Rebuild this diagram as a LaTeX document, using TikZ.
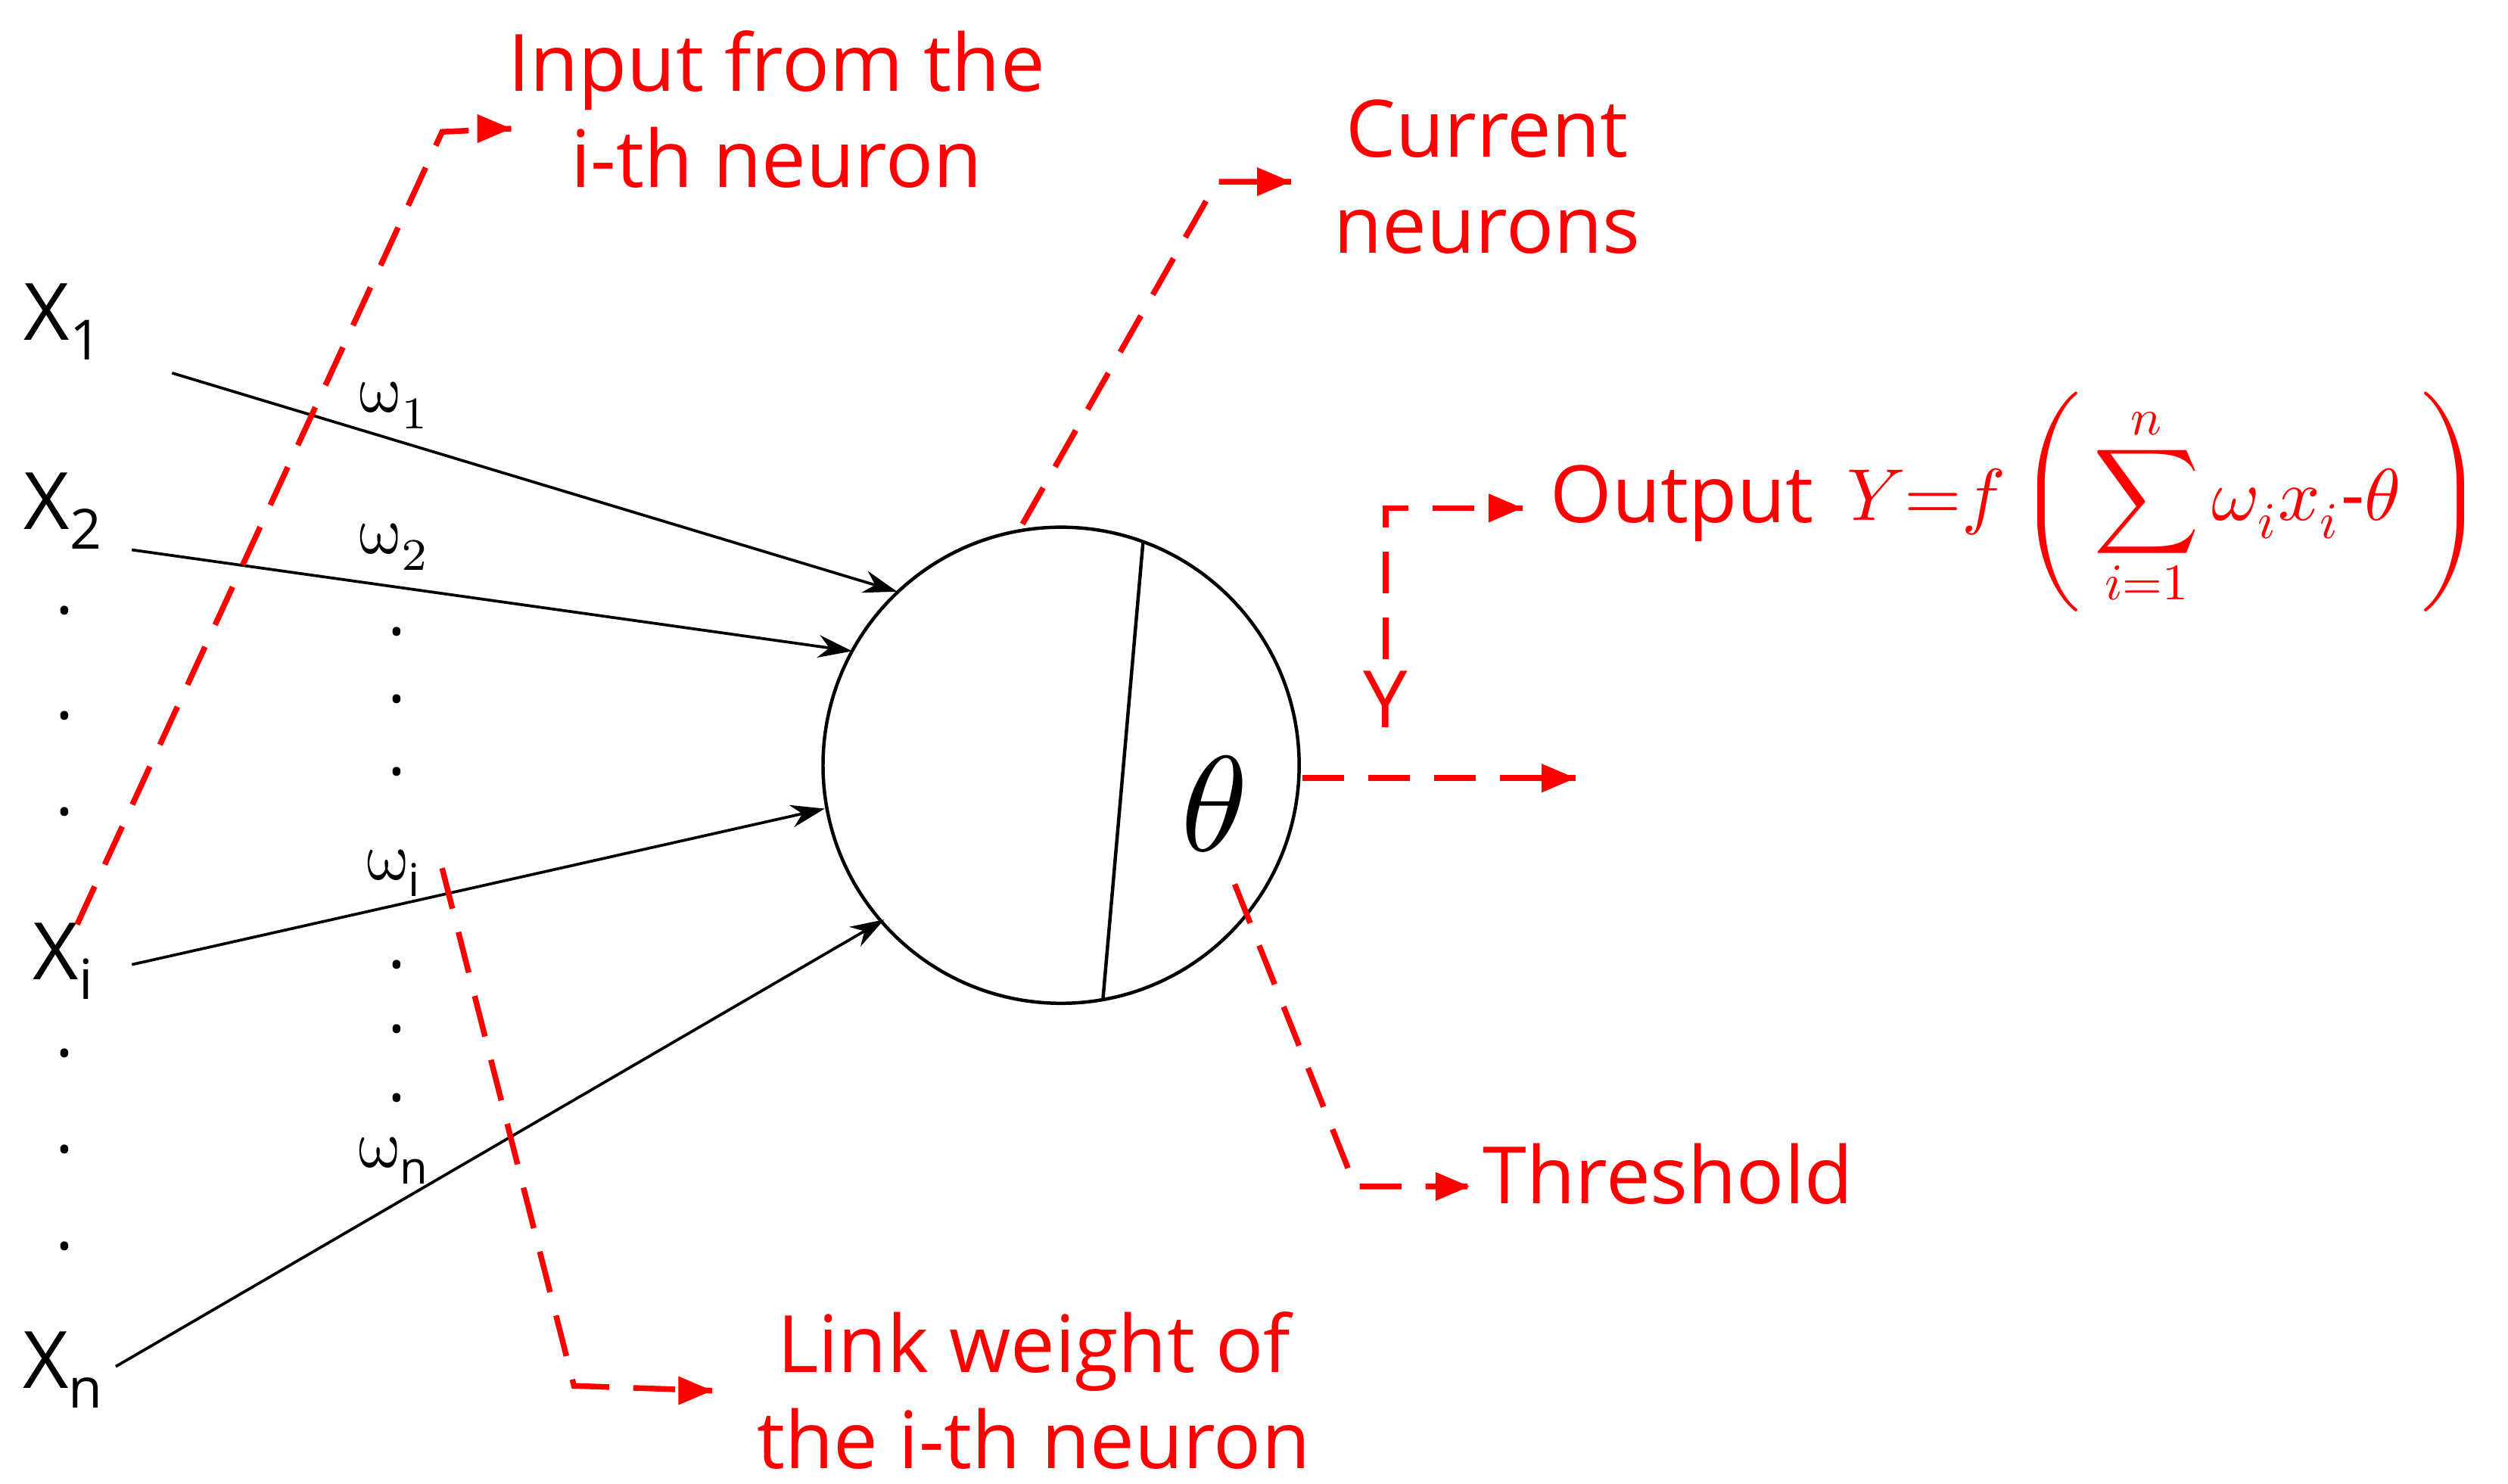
\documentclass[tikz,border=0pt]{standalone}
\usepackage{fontspec}
\setmainfont{Open Sans}
\usepackage{amsmath}
\usepackage{unicode-math}
\setmathfont{Latin Modern Math}
\usetikzlibrary{arrows.meta}
\begin{document}
\begin{tikzpicture}[x=0.01cm,y=-0.01cm,
  lbl/.style={font=\fontsize{14}{16}\selectfont},
  rlbl/.style={text=red,font=\fontsize{14}{17}\selectfont,align=center},
  warr/.style={-{Stealth[length=6pt,width=4pt]},line width=0.5pt},
  rdash/.style={red,line width=1pt,dash pattern=on 0.26cm off 0.15cm},
  rarr/.style={-{Triangle[length=6pt,width=5pt]}},
  dotn/.style={font=\fontsize{12}{12}\selectfont}]
\useasboundingbox (0,0) rectangle (1560,923);
\node[lbl] (x1) at (40,200) {X\textsubscript{1}};
\node[lbl] (x2) at (40,318) {X\textsubscript{2}};
\node[lbl] (xi) at (40,598) {X\textsubscript{i}};
\node[lbl] (xn) at (40,852) {X\textsubscript{n}};
\foreach \y in {380,445,505,655,715,775}{\node[dotn] at (40,\y) {.};}
\foreach \y in {393,435,480,600,640,683}{\node[dotn] at (247,\y) {.};}
\node[font=\fontsize{12}{12}\selectfont] (w1) at (245,252) {$\upomega_1$};
\node[font=\fontsize{12}{12}\selectfont] (w2) at (245,340) {$\upomega_2$};
\node[font=\fontsize{12}{12}\selectfont] (wi) at (245,543) {$\upomega_{\mathrm{i}}$};
\node[font=\fontsize{12}{12}\selectfont] (wn) at (245,722) {$\upomega_{\mathrm{n}}$};
\node[circle,draw,line width=0.6pt,minimum size=2.96cm,inner sep=0] (c) at (660,476) {};
\coordinate (ct) at (711,337); \coordinate (cb) at (686,622);
\draw[line width=0.6pt] (ct) -- (cb);
\node[font=\fontsize{24}{24}\selectfont] (th) at (755,500) {$\theta$};
\coordinate (a1) at (107,232); \coordinate (b1) at (558,368);
\coordinate (a2) at (82,342); \coordinate (b2) at (530,405);
\coordinate (a3) at (82,600); \coordinate (b3) at (513,503);
\coordinate (a4) at (72,850); \coordinate (b4) at (550,572);
\draw[warr] (a1) -- (b1); \draw[warr] (a2) -- (b2);
\draw[warr] (a3) -- (b3); \draw[warr] (a4) -- (b4);
% input
\node[rlbl] (tin) at (483,68) {Input from the\\i-th neuron};
\coordinate (p1) at (48,575); \coordinate (p2) at (275,82); \coordinate (p3) at (318,80);
\draw[rdash] (p1) -- (p2) -- (p3); \draw[red,rarr] (300,80) -- (p3);
% current
\node[rlbl] (tcur) at (925,110) {Current\\neurons};
\coordinate (q1) at (636,326); \coordinate (q2) at (757,113); \coordinate (q3) at (803,113);
\draw[rdash] (q1) -- (q2) -- (q3); \draw[red,rarr] (785,113) -- (q3);
% link weight
\node[rlbl] (tlw) at (643,865) {Link weight of\\the i-th neuron};
\coordinate (r1) at (275,540); \coordinate (r2) at (357,862); \coordinate (r3) at (443,865);
\draw[rdash] (r1) -- (r2) -- (r3); \draw[red,rarr] (425,865) -- (r3);
% threshold
\node[rlbl,anchor=west] (tth) at (910,730) {Threshold};
\coordinate (s1) at (768,550); \coordinate (s2) at (843,738); \coordinate (s3) at (914,738);
\draw[rdash] (s1) -- (s2) -- (s3); \draw[red,rarr] (896,738) -- (s3);
% output
\coordinate (o1) at (810,484); \coordinate (o2) at (980,484);
\draw[rdash] (o1) -- (o2); \draw[red,rarr] (960,484) -- (o2);
\node[rlbl] (ty) at (862,435) {Y};
\coordinate (u1) at (862,410); \coordinate (u2) at (862,316); \coordinate (u3) at (947,316);
\draw[rdash] (u1) -- (u2) -- (u3); \draw[red,rarr] (930,316) -- (u3);
\node[rlbl,anchor=west] (tout) at (952,313) {Output};
\node[text=red,font=\fontsize{13}{16}\selectfont,anchor=west,inner sep=0] (form) at (1148,312)
  {$\displaystyle Y{=}f\left(\,\sum_{i=1}^{n}\omega_i x_i\text{-}\theta\;\right)$};
\end{tikzpicture}
\end{document}
